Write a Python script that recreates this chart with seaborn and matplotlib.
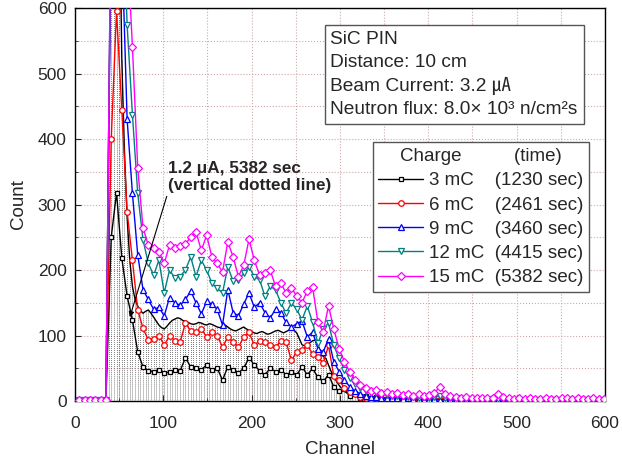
import numpy as np
import matplotlib
matplotlib.use("Agg")
import matplotlib.pyplot as plt
import seaborn as sns

# channel grids
ch = np.arange(5, 600, 6)        # marked series
ch_fine = np.arange(2, 600, 3)   # 1.2 uA reference (dotted lines)

q3 = [1, 1, 0, 1, 0, 1, 250, 318, 218, 160,
      124, 75, 52, 46, 45, 48, 43, 44, 48, 46,
      66, 52, 50, 48, 55, 47, 50, 32, 52, 48,
      43, 50, 66, 55, 46, 40, 50, 45, 48, 40,
      44, 40, 52, 40, 50, 36, 30, 40, 22, 15,
      18, 8, 12, 5, 7, 4, 6, 3, 3, 2,
      3, 2, 2, 1, 2, 2, 1, 2, 1, 1,
      2, 1, 1, 1, 1, 1, 1, 0, 1, 1,
      1, 0, 1, 1, 0, 1, 1, 0, 1, 0,
      1, 1, 0, 1, 0, 1, 0, 1, 0, 1]

q6 = [1, 1, 1, 1, 1, 1, 400, 595, 444, 289,
      215, 139, 111, 93, 95, 100, 85, 100, 92, 90,
      119, 107, 106, 110, 98, 105, 100, 82, 98, 90,
      82, 98, 105, 85, 92, 90, 86, 82, 92, 90,
      62, 75, 78, 85, 72, 67, 58, 85, 38, 32,
      20, 14, 10, 6, 5, 3, 5, 4, 3, 4,
      3, 2, 3, 2, 3, 2, 2, 3, 2, 2,
      1, 2, 1, 2, 1, 1, 2, 1, 1, 1,
      1, 1, 1, 0, 1, 1, 0, 1, 1, 0,
      1, 1, 0, 1, 1, 0, 1, 0, 1, 1]

q9 = [1, 1, 1, 1, 1, 1, 750, 900, 700, 430,
      317, 223, 170, 155, 140, 143, 130, 158, 150, 146,
      155, 168, 150, 133, 152, 148, 140, 116, 170, 135,
      130, 148, 165, 143, 150, 135, 127, 140, 135, 120,
      113, 118, 122, 98, 105, 80, 75, 95, 60, 45,
      32, 22, 15, 11, 8, 6, 6, 5, 4, 5,
      4, 3, 4, 3, 3, 2, 3, 3, 2, 2,
      2, 2, 1, 2, 1, 2, 1, 1, 2, 1,
      1, 1, 1, 1, 1, 1, 1, 1, 1, 1,
      1, 1, 1, 1, 1, 1, 1, 1, 1, 1]

q12 = [1, 1, 1, 1, 1, 1, 800, 950, 800, 574,
       437, 317, 246, 210, 192, 215, 165, 200, 188, 190,
       200, 220, 190, 215, 200, 180, 172, 165, 205, 183,
       185, 195, 205, 190, 185, 160, 175, 170, 150, 134,
       150, 140, 124, 145, 120, 88, 110, 119, 85, 65,
       48, 35, 26, 20, 16, 13, 12, 10, 9, 8,
       7, 8, 6, 6, 5, 6, 5, 6, 8, 5,
       4, 4, 3, 3, 3, 2, 3, 2, 3, 3,
       2, 2, 2, 2, 2, 2, 2, 1, 2, 2,
       1, 2, 1, 2, 1, 1, 2, 1, 1, 1]

q15 = [2, 2, 2, 2, 2, 2, 800, 1000, 900, 700,
       541, 356, 264, 238, 233, 228, 210, 238, 234, 236,
       240, 250, 258, 230, 253, 220, 210, 197, 243, 220,
       190, 207, 247, 215, 192, 195, 200, 175, 180, 165,
       173, 160, 150, 168, 174, 120, 106, 145, 110, 80,
       60, 45, 32, 25, 20, 15, 17, 12, 14, 10,
       12, 9, 10, 8, 10, 8, 9, 12, 22, 10,
       8, 6, 5, 6, 5, 4, 5, 4, 5, 10,
       6, 4, 3, 4, 3, 4, 3, 3, 4, 3,
       3, 4, 5, 3, 4, 3, 3, 4, 3, 3]

ref = [0, 0, 0, 0, 0, 0, 0, 0, 0, 0,
       0, 0, 400, 750, 850, 900, 800, 520, 380, 280,
       215, 175, 155, 145, 138, 134, 137, 139, 134, 128,
       122, 116, 112, 110, 114, 119, 123, 125, 127, 126,
       123, 122, 120, 118, 117, 118, 120, 119, 117, 116,
       118, 117, 115, 113, 112, 114, 116, 113, 110, 108,
       107, 109, 111, 113, 110, 108, 106, 104, 103, 105,
       106, 104, 102, 103, 105, 107, 108, 106, 104, 106,
       108, 109, 108, 104, 95, 86, 84, 86, 89, 92,
       93, 85, 75, 68, 65, 55, 45, 38, 30, 24,
       19, 15, 12, 10, 9, 8, 7, 7, 6, 6,
       6, 5, 6, 5, 5, 5, 5, 4, 5, 4,
       4, 4, 4, 4, 3, 4, 3, 3, 3, 3,
       3, 3, 3, 2, 3, 2, 2, 3, 2, 2,
       2, 2, 2, 2, 2, 2, 1, 2, 2, 1,
       2, 1, 1, 2, 1, 1, 1, 1, 1, 1,
       1, 1, 1, 1, 1, 1, 1, 1, 1, 1,
       1, 1, 1, 1, 1, 1, 1, 1, 1, 1,
       1, 1, 1, 1, 1, 1, 1, 1, 1, 1,
       1, 1, 1, 1, 1, 1, 1, 1, 1, 1]

labels = ["3 mC    (1230 sec)", "6 mC    (2461 sec)", "9 mC    (3460 sec)",
          "12 mC  (4415 sec)", "15 mC  (5382 sec)"]
colors = ["black", "#ff0000", "#0000ff", "#008080", "#ff00ff"]
markers = ["s", "o", "^", "v", "D"]
msizes = [3.5, 4, 4.5, 4.5, 4.5]

sns.set_style("white")
plt.rcParams["font.family"] = ["Liberation Sans", "DejaVu Sans", "Noto Sans CJK JP"]

fig = plt.figure(figsize=(6.22, 4.57), dpi=100)
ax = fig.add_axes([0.1206, 0.1225, 0.852, 0.86])

# reference run: vertical dotted lines + solid line
ax.vlines(ch_fine, 0, np.minimum(ref, 620), colors="#333333", linestyles=":", linewidth=0.55, zorder=1)
sns.lineplot(x=ch_fine, y=ref, ax=ax, color="black", linewidth=1.0, legend=False, zorder=2)

handles = []
for ys, lab, c, m, ms in zip([q3, q6, q9, q12, q15], labels, colors, markers, msizes):
    sns.lineplot(x=ch, y=ys, ax=ax, color=c, linewidth=1.0, marker=m, markersize=ms,
                 markerfacecolor="white", markeredgecolor=c, markeredgewidth=0.9,
                 zorder=3)
    handles.append(ax.lines[-1])

ax.set_xlim(0, 600)
ax.set_ylim(0, 600)
ax.set_xticks(range(0, 601, 100))
ax.set_yticks(range(0, 601, 100))
ax.set_xticks(range(0, 601, 50), minor=True)
ax.set_yticks(range(0, 601, 50), minor=True)
ax.grid(True, which="both", color="#cfa8a8", linestyle=":", linewidth=0.8)
ax.set_axisbelow(True)
ax.tick_params(which="both", direction="in", bottom=True, left=True, labelsize=12.5)
ax.tick_params(axis="x", pad=11)
ax.tick_params(axis="y", pad=6)
ax.tick_params(which="major", length=4)
ax.tick_params(which="minor", length=2)
for s in ax.spines.values():
    s.set_color("black")
    s.set_linewidth(1.0)

ax.set_xlabel("Channel", fontsize=13.5, labelpad=7)
ax.set_ylabel("Count", fontsize=13.5, labelpad=8)

ax.text(0.482, 0.942,
        "SiC PIN\nDistance: 10 cm\nBeam Current: 3.2 \u3382\nNeutron flux: 8.0\u00d7 10\u00b3 n/cm\u00b2s",
        transform=ax.transAxes, ha="left", va="top", fontsize=13.8, linespacing=1.45,
        bbox=dict(boxstyle="square,pad=0.3", facecolor="white", edgecolor="#555555", linewidth=1.0),
        zorder=5)

leg = ax.legend(handles, labels, title="Charge          (time)", loc="upper right",
                bbox_to_anchor=(0.97, 0.658), fontsize=13.5, title_fontsize=13.5,
                frameon=True, fancybox=False, edgecolor="#555555", framealpha=1,
                handlelength=2.4, handletextpad=0.3, labelspacing=0.38, borderpad=0.3,
                borderaxespad=0.0)
leg.get_frame().set_linewidth(1.0)
leg.set_zorder(6)

ax.annotate("1.2 \u03bcA, 5382 sec\n(vertical dotted line)", xy=(62, 128), xytext=(105, 366),
            ha="left", va="top", fontsize=12.3, fontweight="bold", linespacing=1.15,
            arrowprops=dict(arrowstyle="-|>", color="black", lw=0.8, mutation_scale=8,
                            shrinkA=0, shrinkB=0, relpos=(0, 0)),
            zorder=6)

fig.savefig("out.png", dpi=100)
